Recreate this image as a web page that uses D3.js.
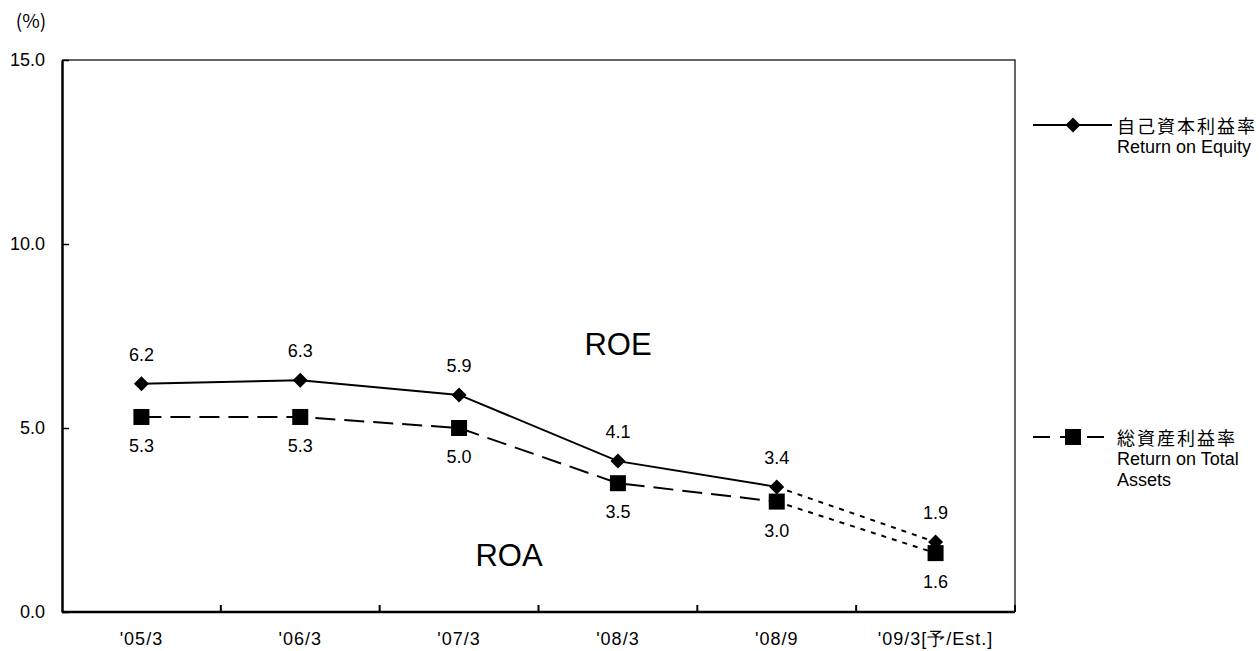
<!DOCTYPE html>
<html>
<head>
<meta charset="utf-8">
<script src="https://cdn.jsdelivr.net/npm/d3@7"></script>
<style>
  html, body { margin: 0; padding: 0; background: #fff; }
  svg { display: block; }
  text { font-family: "Liberation Sans", Arial, sans-serif; fill: #000; }
  .cjk { font-family: "Noto Sans CJK JP", "Liberation Sans", sans-serif; }
</style>
</head>
<body>
<svg id="chart" width="1260" height="651"></svg>
<script>
// ---- data ----
const categories = ["'05/3", "'06/3", "'07/3", "'08/3", "'08/9", "'09/3[予/Est.]"];
const roeValues = [6.2, 6.3, 5.9, 4.1, 3.4, 1.9];
const roaValues = [5.3, 5.3, 5.0, 3.5, 3.0, 1.6];
const yTicks = [0, 5, 10, 15];
const roeLegend = ["自己資本利益率", "Return on Equity"];
const roaLegend = ["総資産利益率", "Return on Total", "Assets"];

const svg = d3.select("#chart");
const plotL = 62, plotR = 1015, plotT = 60, plotB = 612;

const x = d3.scaleBand().domain(categories).range([plotL, plotR]).padding(0);
const y = d3.scaleLinear().domain([0, 15]).range([plotB, plotT]);
const cx = d => x(d) + x.bandwidth() / 2;

// frame (top & right)
svg.append("path")
  .attr("d", `M${plotL},${plotT}H${plotR}V${plotB}`)
  .attr("fill", "none").attr("stroke", "#333").attr("stroke-width", 1.5);

// y axis
const yAxis = d3.axisLeft(y).tickValues(yTicks).tickFormat(d3.format(".1f"))
  .tickSizeInner(-7).tickSizeOuter(0).tickPadding(17);
const gy = svg.append("g").attr("transform", `translate(${plotL},0)`).call(yAxis);
gy.select(".domain").attr("stroke", "#000").attr("stroke-width", 2.5);
gy.selectAll(".tick line").attr("stroke", "#000").attr("stroke-width", 1.5);
gy.selectAll(".tick text").attr("font-size", 18).attr("font-family", "Liberation Sans, Arial, sans-serif");

// x axis line
const gx = svg.append("g");
gx.append("line").attr("x1", plotL).attr("x2", plotR).attr("y1", plotB).attr("y2", plotB)
  .attr("stroke", "#000").attr("stroke-width", 2.5);
gx.selectAll("line.tk").data(categories).enter().append("line").attr("class", "tk")
  .attr("x1", d => x(d) + x.bandwidth()).attr("x2", d => x(d) + x.bandwidth())
  .attr("y1", plotB).attr("y2", plotB - 7)
  .attr("stroke", "#000").attr("stroke-width", 2);
gx.selectAll("text").data(categories).enter().append("text")
  .attr("x", d => cx(d)).attr("y", 639)
  .attr("text-anchor", "middle").attr("dominant-baseline", "central")
  .attr("font-size", 18).attr("letter-spacing", 1)
  .text(d => d);

// "(%)"
svg.append("text").attr("x", 31).attr("y", 19).attr("text-anchor", "middle")
  .attr("dominant-baseline", "central").attr("font-size", 19).attr("class", "cjk").text("(%)");

// lines
function drawSeries(vals, dash) {
  const pts = categories.map((c, i) => [cx(c), y(vals[i])]);
  const line = d3.line();
  svg.append("path").attr("d", line(pts.slice(0, 5)))
    .attr("fill", "none").attr("stroke", "#000").attr("stroke-width", 2)
    .attr("stroke-dasharray", dash);
  svg.append("path").attr("d", line(pts.slice(4)))
    .attr("fill", "none").attr("stroke", "#000").attr("stroke-width", 2)
    .attr("stroke-dasharray", "5,6");
  return pts;
}
drawSeries(roaValues, "20,9");
drawSeries(roeValues, null);

// markers
const diamond = s => `M0,${-s}L${s},0L0,${s}L${-s},0Z`;
svg.selectAll("rect.roa").data(roaValues).enter().append("rect").attr("class", "roa")
  .attr("x", (d, i) => cx(categories[i]) - 8).attr("y", d => y(d) - 8)
  .attr("width", 16).attr("height", 16).attr("fill", "#000");
svg.selectAll("path.roe").data(roeValues).enter().append("path").attr("class", "roe")
  .attr("transform", (d, i) => `translate(${cx(categories[i])},${y(d)})`)
  .attr("d", diamond(7.5)).attr("fill", "#000");

// data labels
svg.selectAll("text.roel").data(roeValues).enter().append("text").attr("class", "roel")
  .attr("x", (d, i) => cx(categories[i])).attr("y", d => y(d) - 29)
  .attr("text-anchor", "middle").attr("dominant-baseline", "central").attr("font-size", 18)
  .text(d => d.toFixed(1));
svg.selectAll("text.roal").data(roaValues).enter().append("text").attr("class", "roal")
  .attr("x", (d, i) => cx(categories[i])).attr("y", d => y(d) + 29)
  .attr("text-anchor", "middle").attr("dominant-baseline", "central").attr("font-size", 18)
  .text(d => d.toFixed(1));

// ROE / ROA big labels
svg.append("text").attr("x", 618).attr("y", 344).attr("text-anchor", "middle")
  .attr("dominant-baseline", "central").attr("font-size", 31).text("ROE");
svg.append("text").attr("x", 509).attr("y", 555).attr("text-anchor", "middle")
  .attr("dominant-baseline", "central").attr("font-size", 31).text("ROA");

// legend
const lg1y = 125;
svg.append("line").attr("x1", 1033).attr("x2", 1112).attr("y1", lg1y).attr("y2", lg1y)
  .attr("stroke", "#000").attr("stroke-width", 2);
svg.append("path").attr("transform", `translate(1073,${lg1y})`).attr("d", diamond(7.5)).attr("fill", "#000");
roeLegend.forEach((t, i) => {
  svg.append("text").attr("class", i === 0 ? "cjk" : null)
    .attr("x", 1117).attr("y", lg1y + i * 22).attr("dominant-baseline", "central")
    .attr("font-size", 18).attr("letter-spacing", i === 0 ? 2 : 0).text(t);
});
const lg2y = 437;
svg.append("line").attr("x1", 1033).attr("x2", 1105).attr("y1", lg2y).attr("y2", lg2y)
  .attr("stroke", "#000").attr("stroke-width", 2).attr("stroke-dasharray", "17,10");
svg.append("rect").attr("x", 1065).attr("y", lg2y - 8).attr("width", 16).attr("height", 16).attr("fill", "#000");
roaLegend.forEach((t, i) => {
  svg.append("text").attr("class", i === 0 ? "cjk" : null)
    .attr("x", 1117).attr("y", lg2y + i * 21.5).attr("dominant-baseline", "central")
    .attr("font-size", 18).attr("letter-spacing", i === 0 ? 2 : 0).text(t);
});
</script>
</body>
</html>
